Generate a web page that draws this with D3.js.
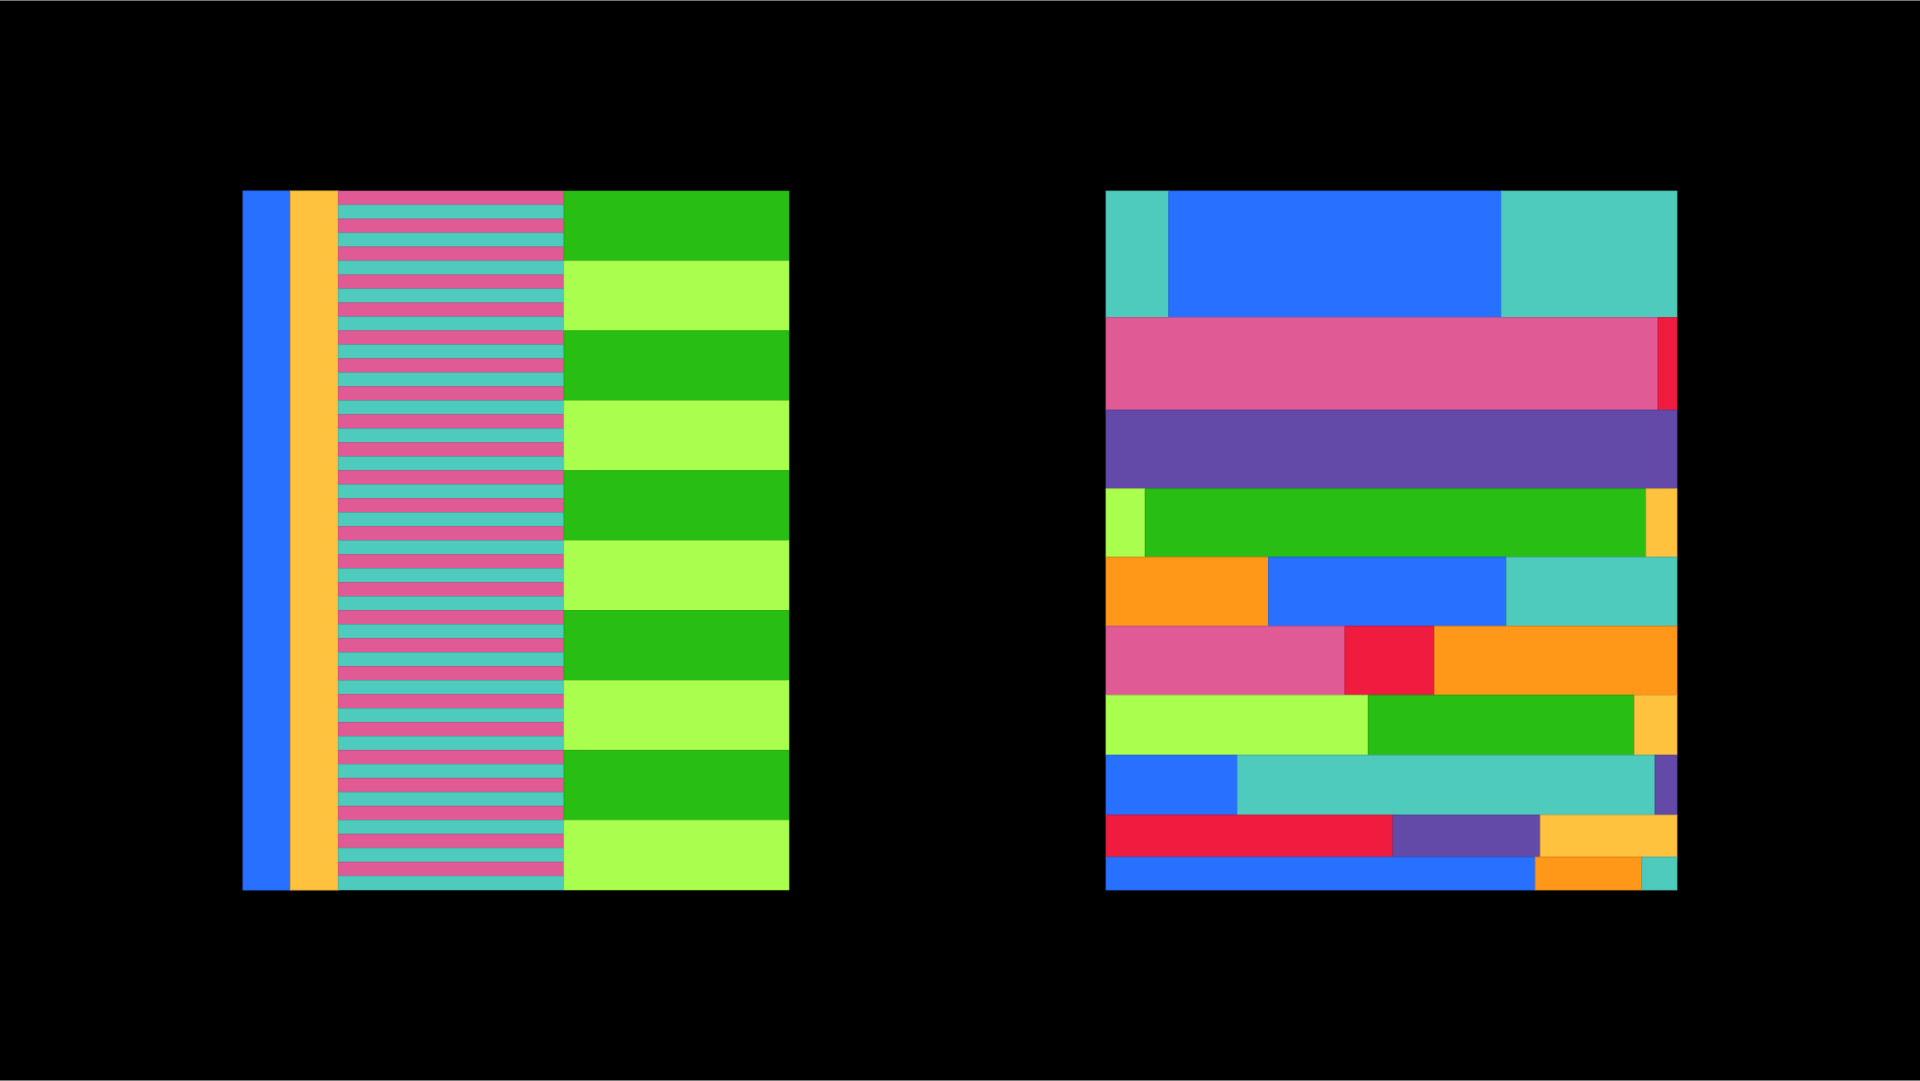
<!DOCTYPE html>
<html>
<head>
<meta charset="utf-8">
<script src="https://cdn.jsdelivr.net/npm/d3@7"></script>
<style>
  html, body { margin: 0; padding: 0; background: #000; }
  svg { display: block; }
</style>
</head>
<body>
<div id="chart"></div>
<script>
const palette = {
  blue: "#2870ff",
  yellow: "#ffc23f",
  pink: "#e05b96",
  teal: "#4ecbbd",
  green: "#28be14",
  lime: "#aaff4e",
  red: "#f01c40",
  purple: "#634aa8",
  orange: "#ff9818",
};

// left panel: four columns, relative widths
const leftColumns = ["root", "group", "stripes", "blocks"];
const leftColumnWidths = [0.21, 0.212, 1.0, 0.997];

// column 3: 50 equal stripes
const stripeValues = [
  1, 1, 1, 1, 1, 1, 1, 1, 1, 1,
  1, 1, 1, 1, 1, 1, 1, 1, 1, 1,
  1, 1, 1, 1, 1, 1, 1, 1, 1, 1,
  1, 1, 1, 1, 1, 1, 1, 1, 1, 1,
  1, 1, 1, 1, 1, 1, 1, 1, 1, 1,
];
const stripeColors = ["pink", "teal"];

// column 4: 10 equal blocks
const blockValues = [1, 1, 1, 1, 1, 1, 1, 1, 1, 1];
const blockColors = ["green", "lime"];

// right panel: mosaic rows, segment values
const rowNames = ["r1", "r2", "r3", "r4", "r5", "r6", "r7", "r8", "r9", "r10"];
const rowValues = [
  [19.9, 105.3, 55.7],
  [128.0, 4.4],
  [112.6],
  [6.7, 85.7, 5.3],
  [28.1, 41.1, 29.5],
  [41.3, 15.5, 41.9],
  [39.4, 40.0, 6.4],
  [19.7, 62.7, 3.3],
  [30.2, 15.5, 14.4],
  [35.4, 8.8, 2.9],
];
const rowColors = [
  ["teal", "blue", "teal"],
  ["pink", "red"],
  ["purple"],
  ["lime", "green", "yellow"],
  ["orange", "blue", "teal"],
  ["pink", "red", "orange"],
  ["lime", "green", "yellow"],
  ["blue", "teal", "purple"],
  ["red", "purple", "yellow"],
  ["blue", "orange", "teal"],
];

const width = 1920;
const height = 1081;

const svg = d3.select("#chart")
  .append("svg")
  .attr("width", width)
  .attr("height", height)
  .attr("viewBox", [0, 0, width, height]);

svg.append("rect").attr("width", width).attr("height", height).attr("fill", "#000");
svg.append("rect").attr("x", 0).attr("y", 0).attr("width", width).attr("height", 1).attr("fill", "#777");
svg.append("rect").attr("x", 0).attr("y", height - 1).attr("width", width).attr("height", 1).attr("fill", "#777");

const edge = (c) => d3.color(palette[c]).darker(0.35);

// ---------- left panel ----------
const left = { x0: 243, x1: 789, y0: 191, y1: 890 };

const colEnds = d3.cumsum(leftColumnWidths);
const colStarts = [0, ...colEnds.slice(0, -1)];
const xLeft = d3.scaleLinear()
  .domain([0, d3.sum(leftColumnWidths)])
  .range([left.x0, left.x1]);

const gLeft = svg.append("g").attr("class", "left-panel");

const colX = (i) => xLeft(colStarts[i]);
const colW = (i) => xLeft(colEnds[i]) - xLeft(colStarts[i]);

// column 1 & 2 solid
gLeft.selectAll(".solid-col")
  .data([{ i: 0, c: "blue" }, { i: 1, c: "yellow" }])
  .join("rect")
  .attr("class", "solid-col")
  .attr("x", (d) => colX(d.i))
  .attr("width", (d) => colW(d.i))
  .attr("y", left.y0)
  .attr("height", left.y1 - left.y0)
  .attr("fill", (d) => palette[d.c])
  .attr("stroke", (d) => edge(d.c))
  .attr("stroke-width", 1);

function stackColumn(values, colors, colIndex, cls) {
  const ends = d3.cumsum(values);
  const starts = [0, ...ends.slice(0, -1)];
  const y = d3.scaleLinear()
    .domain([0, d3.sum(values)])
    .range([left.y0, left.y1]);
  gLeft.selectAll("." + cls)
    .data(values.map((v, i) => ({ s: starts[i], e: ends[i], c: colors[i % colors.length] })))
    .join("rect")
    .attr("class", cls)
    .attr("x", colX(colIndex))
    .attr("width", colW(colIndex))
    .attr("y", (d) => y(d.s))
    .attr("height", (d) => y(d.e) - y(d.s))
    .attr("fill", (d) => palette[d.c])
    .attr("stroke", (d) => edge(d.c))
    .attr("stroke-width", 0.6);
}

stackColumn(stripeValues, stripeColors, 2, "stripe");
stackColumn(blockValues, blockColors, 3, "block");

// ---------- right panel ----------
const right = { x0: 1106, x1: 1677, y0: 191, y1: 890 };

const rowTotals = rowValues.map((r) => d3.sum(r));
const rowEnds = d3.cumsum(rowTotals);
const rowStarts = [0, ...rowEnds.slice(0, -1)];
const yRight = d3.scaleLinear()
  .domain([0, d3.sum(rowTotals)])
  .range([right.y0, right.y1]);

const gRight = svg.append("g").attr("class", "right-panel");

const rows = gRight.selectAll(".row")
  .data(rowNames.map((name, i) => ({ name, i })))
  .join("g")
  .attr("class", "row");

rows.each(function (row) {
  const vals = rowValues[row.i];
  const ends = d3.cumsum(vals);
  const starts = [0, ...ends.slice(0, -1)];
  const x = d3.scaleLinear().domain([0, rowTotals[row.i]]).range([right.x0, right.x1]);
  const y0 = yRight(rowStarts[row.i]);
  const y1 = yRight(rowEnds[row.i]);
  d3.select(this)
    .selectAll("rect")
    .data(vals.map((v, j) => ({ s: starts[j], e: ends[j], c: rowColors[row.i][j] })))
    .join("rect")
    .attr("x", (d) => x(d.s))
    .attr("width", (d) => x(d.e) - x(d.s))
    .attr("y", y0)
    .attr("height", y1 - y0)
    .attr("fill", (d) => palette[d.c])
    .attr("stroke", (d) => edge(d.c))
    .attr("stroke-width", 0.8);
});
</script>
</body>
</html>
